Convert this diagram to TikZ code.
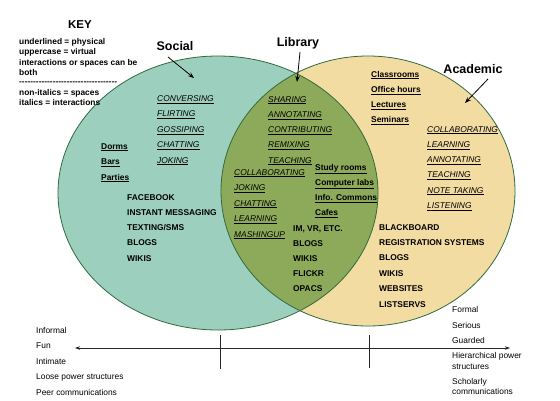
\documentclass[tikz,border=0pt]{standalone}
\usepackage{fontspec}
\setmainfont{Liberation Sans}
\usetikzlibrary{arrows.meta}
\definecolor{socfill}{HTML}{9DCFBF}
\definecolor{lensfill}{HTML}{8DAA5A}
\definecolor{acadfill}{HTML}{F2DCA2}
\definecolor{edgecol}{HTML}{2F6B3E}
\newcommand\smallf{\fontsize{8.4}{10}\selectfont}
\begin{document}
\begin{tikzpicture}[x=1pt,y=-1pt,
  txt/.style={anchor=base west, inner sep=0pt, font=\smallf},
  inter/.style={txt, font=\smallf\itshape},
  bold/.style={txt, font=\smallf\bfseries},
  title/.style={anchor=base, inner sep=0pt, font=\fontsize{12.5}{14}\selectfont\bfseries},
  pointer/.style={-{Stealth[length=6pt,width=4.5pt]}, line width=0.8pt},
  ring/.style={draw=edgecol, line width=0.8pt},
  tick/.style={line width=0.8pt, draw=black!85}
]
\useasboundingbox (0,0) rectangle (560,400);
\fill[white] (0,0) rectangle (560,400);

% circles
\fill[socfill] (218,193) ellipse [x radius=160, y radius=137];
\fill[acadfill] (368,191) ellipse [x radius=147, y radius=135];
\begin{scope}
  \clip (218,193) ellipse [x radius=160, y radius=137];
  \fill[lensfill] (368,191) ellipse [x radius=147, y radius=135];
\end{scope}
\draw[ring] (218,193) ellipse [x radius=160, y radius=137];
\draw[ring] (368,191) ellipse [x radius=147, y radius=135];

% key
\node[anchor=base, inner sep=0pt, font=\fontsize{11.5}{13}\selectfont\bfseries] (key) at (80,28) {KEY};
\node[bold] (k1) at (19,44) {underlined = physical};
\node[bold] (k2) at (19,54.5) {uppercase = virtual};
\node[bold] (k3) at (19,65) {interactions or spaces can be};
\node[bold] (k4) at (19,75.5) {both};
\node[bold] (k5) at (19,84) {{-}{-}{-}{-}{-}{-}{-}{-}{-}{-}{-}{-}{-}{-}{-}{-}{-}{-}{-}{-}{-}{-}{-}{-}{-}{-}{-}{-}{-}{-}{-}{-}{-}{-}{-}};
\node[bold] (k6) at (19,95) {non-italics = spaces};
\node[bold] (k7) at (19,105.5) {italics = interactions};

% titles and pointers
\node[title] (social) at (175,50) {Social};
\node[title] (library) at (298,46) {Library};
\node[title] (academic) at (473,73) {Academic};
\coordinate (socst) at (168,57);
\coordinate (socpt) at (194,78);
\coordinate (libst) at (300,52);
\coordinate (libpt) at (297,82);
\coordinate (acast) at (488,79);
\coordinate (acapt) at (465,103);
\draw[pointer] (socst) -- (socpt);
\draw[pointer] (libst) -- (libpt);
\draw[pointer] (acast) -- (acapt);

% social
\foreach \t [count=\i from 0] in {CONVERSING,FLIRTING,GOSSIPING,CHATTING,JOKING}
  \node[inter] (si\i) at (157,{101.5+15.4*\i}) {\underline{\t}};
\foreach \t [count=\i from 0] in {Dorms,Bars,Parties}
  \node[bold] (sp\i) at (101,{149+15.5*\i}) {\underline{\t}};
\foreach \t [count=\i from 0] in {FACEBOOK,INSTANT MESSAGING,TEXTING/SMS,BLOGS,WIKIS}
  \node[bold] (sv\i) at (127,{200+15.25*\i}) {\t};

% library
\foreach \t [count=\i from 0] in {SHARING,ANNOTATING,CONTRIBUTING,REMIXING,TEACHING}
  \node[inter] (li\i) at (268,{102+15.25*\i}) {\underline{\t}};
\foreach \t [count=\i from 0] in {COLLABORATING,JOKING,CHATTING,LEARNING,MASHINGUP}
  \node[inter] (lj\i) at (234,{175+15.5*\i}) {\underline{\t}};
\foreach \t [count=\i from 0] in {Study rooms,Computer labs,Info. Commons,Cafes}
  \node[bold] (lp\i) at (315,{170+15.3*\i}) {\underline{\t}};
\foreach \t [count=\i from 0] in {{IM, VR, ETC.},BLOGS,WIKIS,FLICKR,OPACS}
  \node[bold] (lv\i) at (293,{231+15*\i}) {\t};

% academic
\foreach \t [count=\i from 0] in {Classrooms,Office hours,Lectures,Seminars}
  \node[bold] (ap\i) at (371,{77+15.3*\i}) {\underline{\t}};
\foreach \t [count=\i from 0] in {COLLABORATING,LEARNING,ANNOTATING,TEACHING,NOTE TAKING,LISTENING}
  \node[inter] (ai\i) at (427,{132+15.3*\i}) {\underline{\t}};
\foreach \t [count=\i from 0] in {BLACKBOARD,REGISTRATION SYSTEMS,BLOGS,WIKIS,WEBSITES,LISTSERVS}
  \node[bold] (av\i) at (379,{230+15.4*\i}) {\t};

% axis
\coordinate (axL) at (75,348);
\coordinate (axR) at (510,348);
\draw[tick, {Stealth[length=5pt,width=3.5pt]}-{Stealth[length=5pt,width=3.5pt]}] (axL) -- (axR);
\coordinate (t1a) at (220,335); \coordinate (t1b) at (220,369);
\coordinate (t2a) at (369,335); \coordinate (t2b) at (369,368);
\draw[tick] (t1a) -- (t1b);
\draw[tick] (t2a) -- (t2b);

% left labels
\foreach \t [count=\i from 0] in {Informal,Fun,Intimate,Loose power structures,Peer communications}
  \node[txt] (ll\i) at (36,{333+15.5*\i}) {\t};

% right labels
\node[txt] (r1) at (452,312) {Formal};
\node[txt] (r2) at (452,328) {Serious};
\node[txt] (r3) at (452,343) {Guarded};
\node[txt] (r4) at (452,358) {Hierarchical power};
\node[txt] (r5) at (452,369) {structures};
\node[txt] (r6) at (452,384) {Scholarly};
\node[txt] (r7) at (452,394.5) {communications};
\end{tikzpicture}
\end{document}
